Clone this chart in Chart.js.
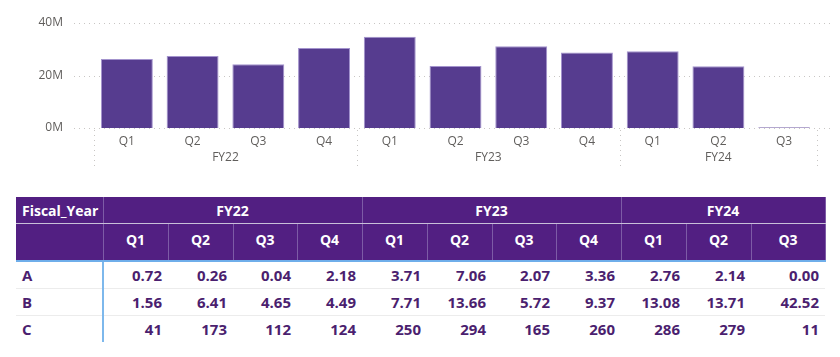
<!DOCTYPE html>
<html>
<head>
<meta charset="utf-8">
<script src="https://cdn.jsdelivr.net/npm/chart.js@4/dist/chart.umd.min.js"></script>
<style>
  html, body { margin: 0; padding: 0; background: #ffffff; width: 840px; height: 357px; overflow: hidden; }
  #wrap { position: absolute; left: 0; top: 0; width: 840px; height: 180px; }
  table { position: absolute; left: 16px; top: 197px; width: 809px; border-collapse: collapse; table-layout: fixed;
          font-family: 'Segoe UI', 'Open Sans', sans-serif; }
  th { background: #521F82; color: #ffffff; font-weight: 700; font-size: 14px; padding: 0; }
  tr.h1 th { height: 26px; border-bottom: 1px solid #C9BFD9; border-right: 1px solid #7D5BA6; }
  tr.h2 th { height: 30px; border-bottom: 2px solid #6FAEEA; border-right: 1px solid #7D5BA6; padding-bottom: 6px; }
  th.first { text-align: left; padding-left: 6px; }
  td { font-weight: 700; font-size: 15px; color: #4B1F6F; text-align: right; padding: 0 6px 0 0; height: 26px;
       border-bottom: 1px solid #ECECEC; white-space: nowrap; }
  td.rl { text-align: left; padding-left: 6px; border-right: 2px solid #7DB8EC; }
  tr.last td { border-bottom: none; }
</style>
</head>
<body>
<div id="wrap"><canvas id="c" width="840" height="180"></canvas></div>
<table id="tbl"></table>
<script>
// ---- data ----
const quarters = ['Q1','Q2','Q3','Q4','Q1','Q2','Q3','Q4','Q1','Q2','Q3'];
const fiscalYears = ['FY22','FY23','FY24'];
const yearOfBar = [0,0,0,0,1,1,1,1,2,2,2];
const barValues = [26.3e6, 27.4e6, 24.3e6, 30.5e6, 34.8e6, 23.6e6, 31.1e6, 28.8e6, 29.2e6, 23.5e6, 0.3e6];
const yTicks = [0, 20e6, 40e6];
const rowLabels = ['A','B','C'];
const rowA = ['0.72','0.26','0.04','2.18','3.71','7.06','2.07','3.36','2.76','2.14','0.00'];
const rowB = ['1.56','6.41','4.65','4.49','7.71','13.66','5.72','9.37','13.08','13.71','42.52'];
const rowC = ['41','173','112','124','250','294','165','260','286','279','11'];
const colWidths = [87,65,65,64,65,65,65,64,65,65,65,74];

const FONT = "'Segoe UI', 'Open Sans', sans-serif";
const TXT = '#605E5C';

const extrasPlugin = {
  id: 'extras',
  beforeDatasetsDraw(chart) {
    const ctx = chart.ctx, y = chart.scales.y, a = chart.chartArea;
    ctx.save();
    ctx.strokeStyle = '#C8C6C4';
    ctx.lineWidth = 1;
    ctx.setLineDash([1, 4]);
    yTicks.forEach(v => {
      const py = Math.round(y.getPixelForValue(v)) + 0.5;
      ctx.beginPath();
      ctx.moveTo(a.left - 20, py);
      ctx.lineTo(a.right + 16, py);
      ctx.stroke();
    });
    ctx.restore();
  },
  afterDraw(chart) {
    const ctx = chart.ctx, x = chart.scales.x, a = chart.chartArea;
    const step = x.getPixelForValue(1) - x.getPixelForValue(0);
    ctx.save();
    ctx.strokeStyle = '#C8C6C4';
    ctx.lineWidth = 1;
    ctx.setLineDash([1, 4]);
    const bounds = [];
    yearOfBar.forEach((g, i) => { if (i === 0 || yearOfBar[i-1] !== g) bounds.push(i); });
    bounds.push(yearOfBar.length);
    bounds.forEach(i => {
      const px = Math.round(x.getPixelForValue(i) - step / 2) + 0.5;
      ctx.beginPath();
      ctx.moveTo(px, a.bottom + 2);
      ctx.lineTo(px, a.bottom + 40);
      ctx.stroke();
    });
    ctx.setLineDash([]);
    ctx.fillStyle = TXT;
    ctx.font = '12px ' + FONT;
    ctx.textAlign = 'center';
    ctx.textBaseline = 'middle';
    fiscalYears.forEach((fy, g) => {
      const idx = yearOfBar.map((v, i) => v === g ? i : -1).filter(i => i >= 0);
      const cx = (x.getPixelForValue(idx[0]) + x.getPixelForValue(idx[idx.length - 1])) / 2;
      ctx.fillText(fy, cx, a.bottom + 30);
    });
    ctx.restore();
  }
};

new Chart(document.getElementById('c'), {
  type: 'bar',
  data: {
    labels: quarters,
    datasets: [{
      data: barValues,
      backgroundColor: '#563C8F',
      borderColor: '#A393CD',
      borderWidth: 1,
      barPercentage: 0.79,
      categoryPercentage: 1.0
    }]
  },
  options: {
    responsive: false,
    devicePixelRatio: 1,
    animation: false,
    layout: { padding: { left: 0, right: 23, top: 23, bottom: 0 } },
    plugins: { legend: { display: false }, tooltip: { enabled: false } },
    scales: {
      x: {
        grid: { display: false, drawTicks: false },
        border: { display: false },
        ticks: { color: TXT, font: { size: 12, family: FONT }, padding: 6, maxRotation: 0, autoSkip: false },
        afterFit(s) { s.height = 52; s.paddingLeft = 0; s.paddingRight = 0; }
      },
      y: {
        min: 0, max: 40e6,
        afterBuildTicks(s) { s.ticks = yTicks.map(v => ({ value: v })); },
        grid: { display: false, drawTicks: false },
        border: { display: false },
        ticks: { color: TXT, font: { size: 12, family: FONT }, padding: 31,
                 callback: v => (v / 1e6) + 'M' },
        afterFit(s) { s.width = 94; s.paddingTop = 0; s.paddingBottom = 0; }
      }
    }
  },
  plugins: [extrasPlugin]
});

// ---- table ----
(function buildTable() {
  const t = document.getElementById('tbl');
  let html = '<colgroup>' + colWidths.map(w => '<col style="width:' + w + 'px">').join('') + '</colgroup>';
  html += '<tr class="h1"><th class="first">Fiscal_Year</th>';
  fiscalYears.forEach((fy, g) => {
    const span = yearOfBar.filter(v => v === g).length;
    html += '<th colspan="' + span + '">' + fy + '</th>';
  });
  html += '</tr><tr class="h2"><th></th>' + quarters.map(q => '<th>' + q + '</th>').join('') + '</tr>';
  const rows = [rowA, rowB, rowC];
  rows.forEach((r, i) => {
    html += '<tr' + (i === rows.length - 1 ? ' class="last"' : '') + '><td class="rl">' + rowLabels[i] + '</td>' +
            r.map(v => '<td>' + v + '</td>').join('') + '</tr>';
  });
  t.innerHTML = html;
})();
</script>
</body>
</html>
